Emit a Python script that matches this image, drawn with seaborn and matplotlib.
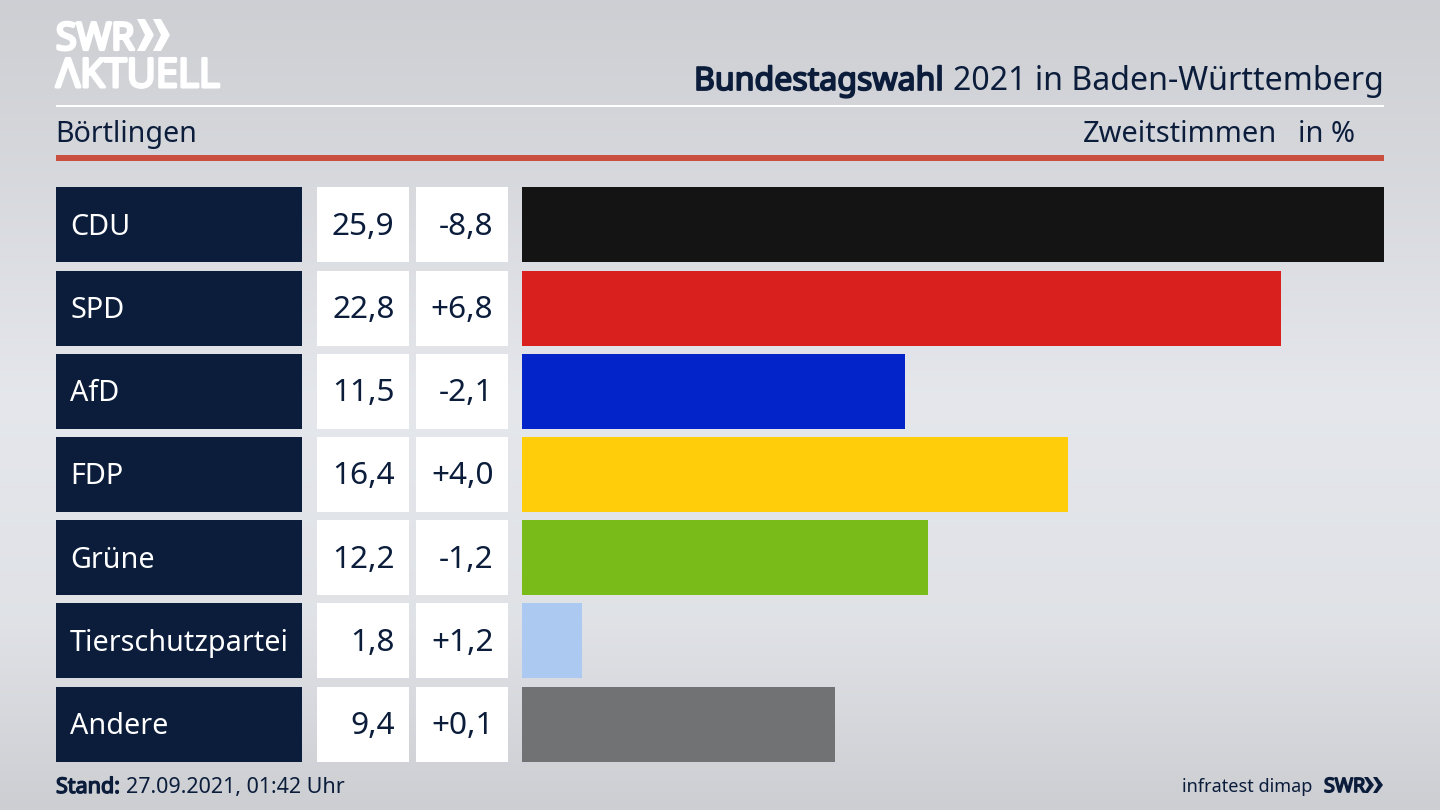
# plot.py
# Bundestagswahl 2021 - Boertlingen, Zweitstimmen

import numpy as np
import pandas as pd
import matplotlib
matplotlib.use("Agg")
import matplotlib.pyplot as plt
from matplotlib.patches import Rectangle, Polygon
import matplotlib.patheffects as pe
import seaborn as sns

parties = ["CDU", "SPD", "AfD", "FDP", "Grüne", "Tierschutzpartei", "Andere"]
shares = [25.9, 22.8, 11.5, 16.4, 12.2, 1.8, 9.4]
changes = ["-8,8", "+6,8", "-2,1", "+4,0", "-1,2", "+1,2", "+0,1"]
colors = ["#141414", "#da201f", "#0224c8", "#ffcd0a", "#79bc19", "#abc9f1", "#717274"]

NAVY = "#0b1d3b"
W, H = 1440, 810

sns.set_theme(style="white")
plt.rcParams["font.family"] = ["Noto Sans", "DejaVu Sans"]

fig = plt.figure(figsize=(W / 100, H / 100), dpi=100)


def fat(color, width):
    # the installed families draw bold as regular, so thicken with a stroke
    return [pe.withStroke(linewidth=width, foreground=color)]


# background gradient
bg = fig.add_axes([0, 0, 1, 1], zorder=0)
stops_y = [0, 150, 400, 620, 810]
stops_c = [0xd0, 0xd8, 0xe8, 0xe3, 0xcf]
grad = np.interp(np.arange(H), stops_y, stops_c) / 255
grad_rgb = np.stack([grad * 0.985, grad * 0.995, grad * 1.015], axis=-1).clip(0, 1)
bg.imshow(grad_rgb[:, None, :], aspect="auto", extent=[0, W, H, 0])
bg.set_xlim(0, W)
bg.set_ylim(H, 0)
bg.axis("off")

# row geometry, in pixels
top, pitch, bar_h = 187.4, 83.2, 75

# overlay for the header, boxes and footer
ov = fig.add_axes([0, 0, 1, 1], zorder=1)
ov.set_xlim(0, W)
ov.set_ylim(H, 0)
ov.axis("off")
ov.patch.set_alpha(0)

ov.add_patch(Rectangle((56, 104.5), 1328, 2.5, color="white", lw=0))
ov.add_patch(Rectangle((56, 155), 1328, 5.5, color="#c9503e", lw=0))

# logo
ov.text(56, 49.5, "SWR", color="white", fontsize=27, family="Open Sans",
        va="baseline", ha="left", path_effects=fat("white", 2.4))
for x0 in (137, 153):
    ov.add_patch(Polygon([(x0, 19), (x0 + 8, 19), (x0 + 17, 35), (x0 + 8, 51), (x0, 51), (x0 + 8, 35)],
                         closed=True, color="white", lw=0))
ov.text(56, 87, "ΛKTUELL", color="white", fontsize=28.8, family="Open Sans",
        va="baseline", ha="left", path_effects=fat("white", 2.2))

# header text
ov.text(944, 90, "Bundestagswahl", color=NAVY, fontsize=23.1, va="baseline", ha="right",
        path_effects=fat(NAVY, 1.3))
ov.text(953, 90, "2021 in Baden-Württemberg", color=NAVY, fontsize=23.15, va="baseline", ha="left")
ov.text(55, 142, "Börtlingen", color=NAVY, fontsize=20.6, va="baseline", ha="left")
ov.text(1277, 142, "Zweitstimmen", color=NAVY, fontsize=20.9, va="baseline", ha="right")
ov.text(1355, 142, "in %", color=NAVY, fontsize=20.9, va="baseline", ha="right")

# table boxes
for i, party in enumerate(parties):
    y = top + i * pitch
    base = y + bar_h / 2 + 10
    ov.add_patch(Rectangle((56, y), 246, bar_h, color=NAVY, lw=0))
    ov.add_patch(Rectangle((317, y), 92, bar_h, color="white", lw=0))
    ov.add_patch(Rectangle((416, y), 92, bar_h, color="white", lw=0))
    ov.text(70, base, party, color="white", fontsize=20.7, va="baseline", ha="left")
    ov.text(394.5, base, f"{shares[i]:.1f}".replace(".", ","), color=NAVY, fontsize=22.7,
            va="baseline", ha="right")
    ov.text(493.5, base, changes[i], color=NAVY, fontsize=22.7, va="baseline", ha="right")

# footer
ov.text(56, 793, "Stand:", color=NAVY, fontsize=15.5, va="baseline", ha="left",
        path_effects=fat(NAVY, 1.0))
ov.text(126, 793, "27.09.2021, 01:42 Uhr", color=NAVY, fontsize=15.45, va="baseline", ha="left")
ov.text(1312, 792, "infratest dimap", color=NAVY, fontsize=13, va="baseline", ha="right")
ov.text(1324, 792, "SWR", color=NAVY, fontsize=14.2, family="Open Sans", va="baseline", ha="left",
        path_effects=fat(NAVY, 1.2))
for x0 in (1364, 1373):
    ov.add_patch(Polygon([(x0, 777), (x0 + 4, 777), (x0 + 10, 785), (x0 + 4, 793), (x0, 793), (x0 + 5, 785)],
                         closed=True, color=NAVY, lw=0))

# bars
df = pd.DataFrame({"party": parties, "share": shares})
ax_top = top - (pitch - bar_h) / 2
ax_h = pitch * len(parties)
ax = fig.add_axes([522 / W, 1 - (ax_top + ax_h) / H, 862 / W, ax_h / H], zorder=2)
sns.barplot(data=df, x="share", y="party", hue="party", palette=colors, dodge=False,
            legend=False, width=bar_h / pitch, saturation=1, linewidth=0, ax=ax)
ax.set_xlim(0, 25.9)
ax.set_ylim(len(parties) - 0.5, -0.5)
ax.patch.set_alpha(0)
ax.set_axis_off()

fig.savefig("out.png", dpi=100)
